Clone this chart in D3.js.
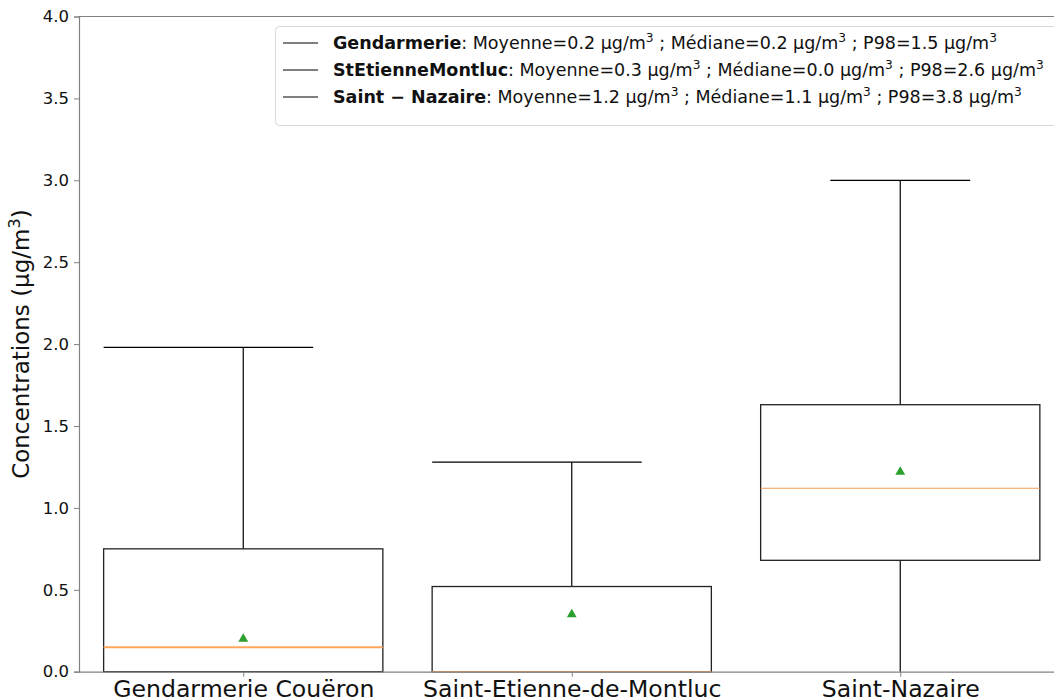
<!DOCTYPE html>
<html>
<head>
<meta charset="utf-8">
<script src="https://cdn.jsdelivr.net/npm/d3@7"></script>
<style>
  body { margin: 0; background: #fff; }
  svg { display: block; font-family: "DejaVu Sans", sans-serif; }
</style>
</head>
<body>
<svg id="chart" width="1054" height="700"></svg>
<script>
// DATA //
const stations = ["Gendarmerie Couëron", "Saint-Etienne-de-Montluc", "Saint-Nazaire"]
const q1 = [0, 0, 0.68]
const medians = [0.15, 0, 1.12]
const q3 = [0.75, 0.52, 1.63]
const whiskLo = [0, 0, 0]
const whiskHi = [1.98, 1.28, 3.0]
const means = [0.2, 0.35, 1.22]
const yTicks = [0, 0.5, 1, 1.5, 2, 2.5, 3, 3.5, 4]

const legendNames = ["Gendarmerie", "StEtienneMontluc", "Saint \u2212 Nazaire"]
const legendMoyenne = ["0.2", "0.3", "1.2"]
const legendMediane = ["0.2", "0.0", "1.1"]
const legendP98 = ["1.5", "2.6", "3.8"]

// LAYOUT //
const plotLeft = 79, plotTop = 16.5, plotBottom = 671.7, plotRight = 1064.5
const boxWidth = 0.85
// cap extents relative to box centre (as drawn in the original)
const capLo = [-0.425, -0.425, -0.213]
const capHi = [0.213, 0.213, 0.213]

const svg = d3.select('#chart')

const x = d3.scaleLinear().domain([0.5, 3.5]).range([plotLeft, plotRight])
const y = d3.scaleLinear().domain([0, 4]).range([plotBottom, plotTop])

const pos = stations.map((d, i) => i + 1)

// BOXES //
const g = svg.append('g')

// whiskers
g.selectAll('.whisk-hi')
  .data(pos)
  .enter()
  .append('line')
  .attr('x1', d => x(d)).attr('x2', d => x(d))
  .attr('y1', (d, i) => y(q3[i])).attr('y2', (d, i) => y(whiskHi[i]))
  .attr('stroke', '#000').attr('stroke-width', 1.2)

g.selectAll('.whisk-lo')
  .data(pos)
  .enter()
  .append('line')
  .attr('x1', d => x(d)).attr('x2', d => x(d))
  .attr('y1', (d, i) => y(q1[i])).attr('y2', (d, i) => y(whiskLo[i]))
  .attr('stroke', '#000').attr('stroke-width', 1.2)

// caps
g.selectAll('.cap-hi')
  .data(pos)
  .enter()
  .append('line')
  .attr('x1', (d, i) => x(d + capLo[i])).attr('x2', (d, i) => x(d + capHi[i]))
  .attr('y1', (d, i) => y(whiskHi[i])).attr('y2', (d, i) => y(whiskHi[i]))
  .attr('stroke', '#000').attr('stroke-width', 1.2)

// box bodies
g.selectAll('.box')
  .data(pos)
  .enter()
  .append('rect')
  .attr('x', d => x(d - boxWidth / 2))
  .attr('width', x(boxWidth) - x(0))
  .attr('y', (d, i) => y(q3[i]))
  .attr('height', (d, i) => y(q1[i]) - y(q3[i]))
  .attr('fill', 'none')
  .attr('stroke', '#222').attr('stroke-width', 1.3)

// medians
g.selectAll('.median')
  .data(pos)
  .enter()
  .append('line')
  .attr('x1', d => x(d - boxWidth / 2)).attr('x2', d => x(d + boxWidth / 2))
  .attr('y1', (d, i) => y(medians[i])).attr('y2', (d, i) => y(medians[i]))
  .attr('stroke', (d, i) => i === 0 ? '#ffa65c' : '#f59a50')
  .attr('stroke-width', (d, i) => i === 0 ? 2 : 1.2)

// means
g.selectAll('.mean')
  .data(pos)
  .enter()
  .append('path')
  .attr('d', d3.symbol().type(d3.symbolTriangle).size(42))
  .attr('transform', (d, i) => `translate(${x(d)},${y(means[i])})`)
  .attr('fill', '#2ca02c')

// AXES //
const axisColor = '#808080'

const yAxis = svg.append('g')
  .attr('transform', `translate(${plotLeft},0)`)
  .call(d3.axisLeft(y).tickValues(yTicks).tickFormat(d3.format('.1f')).tickSize(5).tickPadding(5))
yAxis.select('.domain').attr('stroke', axisColor).attr('stroke-width', 1.2)
yAxis.selectAll('.tick line').attr('stroke', axisColor)
yAxis.selectAll('text').attr('font-size', 16.5).attr('fill', '#111')
  .attr('font-family', '"DejaVu Sans", sans-serif')

const xAxis = svg.append('g')
  .attr('transform', `translate(0,${plotBottom})`)
  .call(d3.axisBottom(x).tickValues(pos).tickFormat((d, i) => stations[i]).tickSize(5).tickPadding(4).tickSizeOuter(0))
xAxis.select('.domain').attr('stroke', axisColor).attr('stroke-width', 1.2)
xAxis.selectAll('.tick line').attr('stroke', axisColor)
xAxis.selectAll('text').attr('font-size', 23.6).attr('fill', '#111')
  .attr('font-family', '"DejaVu Sans", sans-serif')
  .attr('dy', '0.69em')

// top spine
svg.append('line')
  .attr('x1', plotLeft).attr('x2', plotRight)
  .attr('y1', plotTop).attr('y2', plotTop)
  .attr('stroke', axisColor).attr('stroke-width', 1.2)

// y label
svg.append('text')
  .attr('transform', `translate(29,${(plotTop + plotBottom) / 2}) rotate(-90)`)
  .attr('text-anchor', 'middle')
  .attr('font-size', 23)
  .attr('fill', '#111')
  .call(t => {
    t.append('tspan').text('Concentrations (µg/m')
    t.append('tspan').attr('font-size', 16).attr('dy', -9).text('3')
    t.append('tspan').attr('dy', 9).text(')')
  })

// LEGEND //
const legend = svg.append('g')
legend.append('rect')
  .attr('x', 275.5).attr('y', 26.5)
  .attr('width', 800).attr('height', 99)
  .attr('rx', 4)
  .attr('fill', 'rgba(255,255,255,0.8)')
  .attr('stroke', '#d8d8d8')

const rowY = [43, 70, 97]

legendNames.forEach((name, i) => {
  legend.append('line')
    .attr('x1', 283).attr('x2', 318)
    .attr('y1', rowY[i]).attr('y2', rowY[i])
    .attr('stroke', '#000').attr('stroke-width', 1.2)

  const t = legend.append('text')
    .attr('x', 333).attr('y', rowY[i] + 6)
    .attr('font-size', 17.5)
    .attr('fill', '#111')
  t.append('tspan').attr('font-weight', 'bold').text(name)
  t.append('tspan').text(`: Moyenne=${legendMoyenne[i]} µg/m`)
  t.append('tspan').attr('font-size', 12.2).attr('dy', -7.5).text('3')
  t.append('tspan').attr('dy', 7.5).text(` ; Médiane=${legendMediane[i]} µg/m`)
  t.append('tspan').attr('font-size', 12.2).attr('dy', -7.5).text('3')
  t.append('tspan').attr('dy', 7.5).text(` ; P98=${legendP98[i]} µg/m`)
  t.append('tspan').attr('font-size', 12.2).attr('dy', -7.5).text('3')
})
</script>
</body>
</html>
